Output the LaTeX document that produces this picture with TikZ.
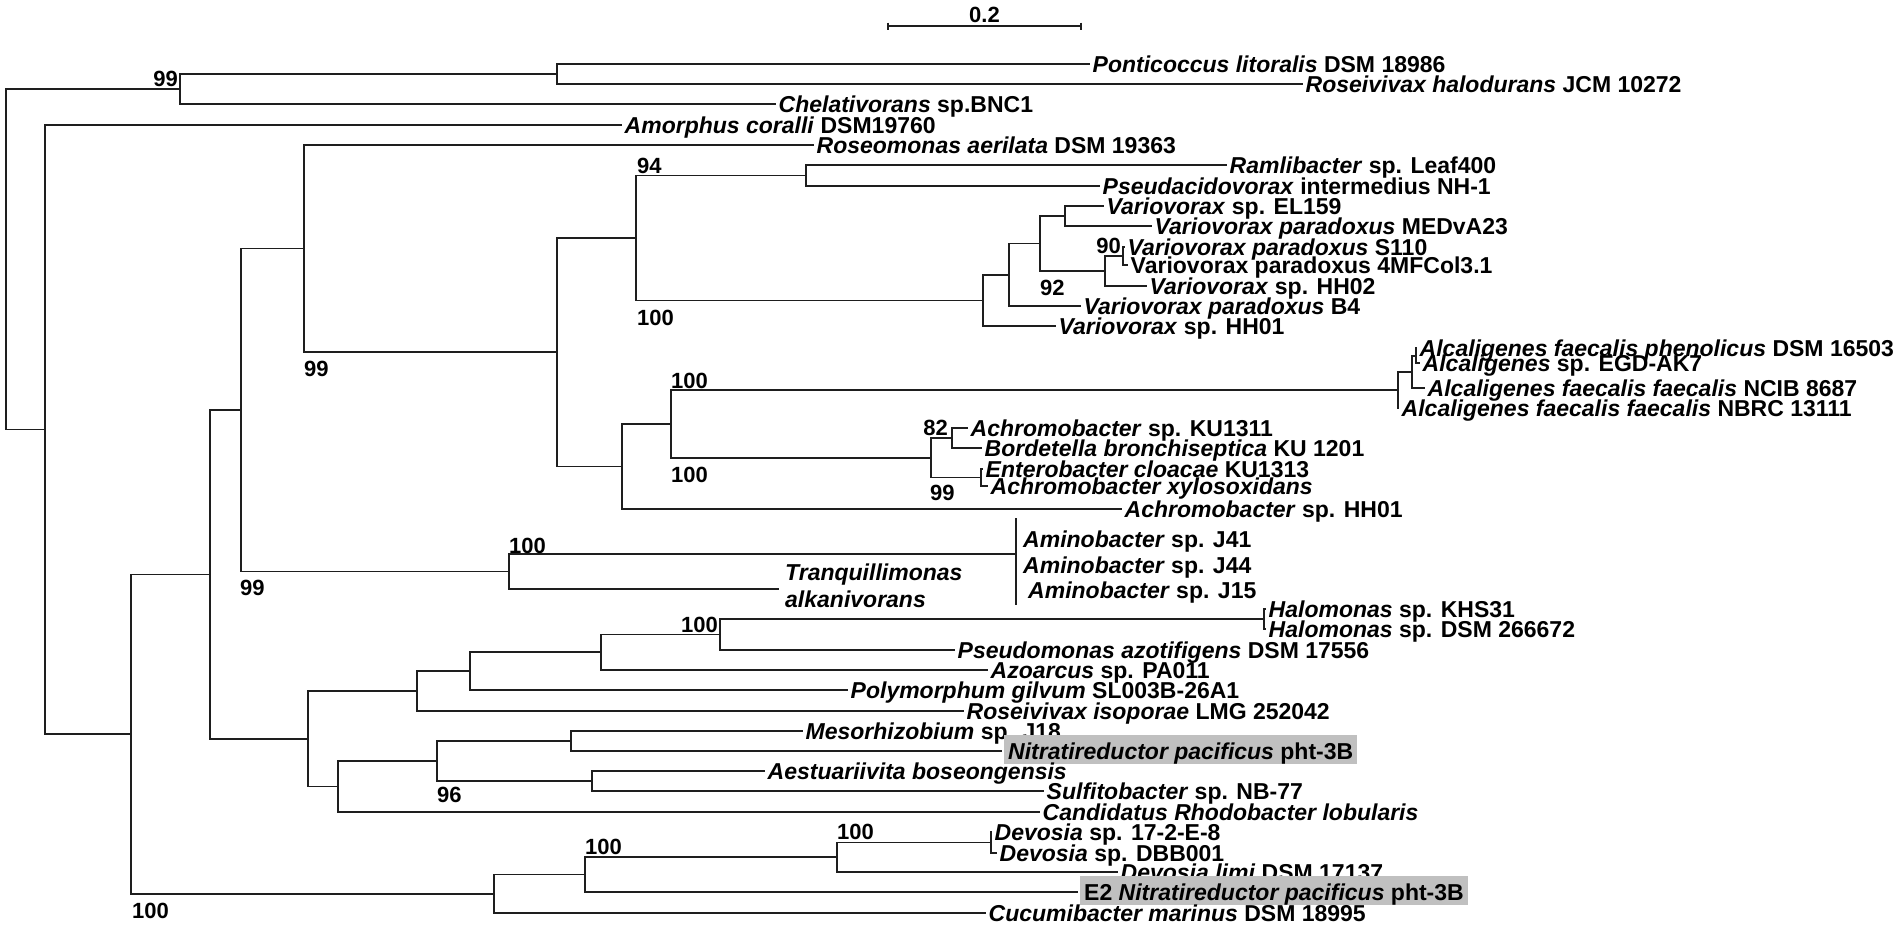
\documentclass[tikz,border=0pt]{standalone}
\usepackage{fontspec}
\setmainfont{Liberation Sans}
\definecolor{hlgray}{RGB}{192,192,192}
\definecolor{brcol}{RGB}{30,30,30}
\begin{document}
\begin{tikzpicture}[x=1pt,y=-1pt,
  br/.style={draw=brcol, line width=1.6pt},
  taxon/.style={anchor=base west, yshift=-8pt, inner xsep=2.5pt, inner ysep=0pt, font=\fontsize{23}{26}\selectfont\bfseries},
  taxfree/.style={anchor=base west, inner xsep=0pt, inner ysep=0pt, font=\fontsize{23}{26}\selectfont\bfseries},
  hilite/.style={taxon, xshift=2pt, fill=hlgray, inner xsep=4pt, text height=24pt, text depth=5pt},
  boot/.style={inner sep=0pt, font=\fontsize{22}{24}\selectfont\bfseries}]
\useasboundingbox (0,0) rectangle (1900,932);
\fill[white] (0,0) rectangle (1900,932);
% ---------- internal nodes ----------
\coordinate (root) at (6,259);
\coordinate (n180) at (180,89);
\coordinate (n557a) at (557,74);
\coordinate (n45) at (45,429.5);
\coordinate (n131) at (131,734);
\coordinate (n210) at (210,574.5);
\coordinate (n241) at (241,410);
\coordinate (n304) at (304,248.5);
\coordinate (n557) at (557,352);
\coordinate (n636) at (636,238);
\coordinate (n806) at (806,175.5);
\coordinate (n983) at (983,300.5);
\coordinate (n1009) at (1009,275);
\coordinate (n1040) at (1040,243.5);
\coordinate (n1065) at (1065,216);
\coordinate (n1105) at (1105,271);
\coordinate (n1123) at (1123,256);
\coordinate (n622) at (622,466.5);
\coordinate (n671) at (671,424);
\coordinate (n1398) at (1398,390);
\coordinate (n1412) at (1412,372);
\coordinate (n1416) at (1416,356);
\coordinate (n931) at (931,457.75);
\coordinate (n952) at (952,438);
\coordinate (n981) at (981,477.5);
\coordinate (n509) at (509,571.5);
\coordinate (amin) at (1016,554);
\coordinate (amt) at (1016,518);
\coordinate (amb) at (1016,605);
\coordinate (n308) at (308,739);
\coordinate (n417) at (417,691);
\coordinate (n470) at (470,671);
\coordinate (n601) at (601,652);
\coordinate (n720) at (720,634.5);
\coordinate (n1264) at (1264,619);
\coordinate (n338) at (338,786.5);
\coordinate (n437) at (437,761);
\coordinate (n571) at (571,741);
\coordinate (n592) at (592,781);
\coordinate (n494) at (494,894);
\coordinate (n585) at (585,874.5);
\coordinate (n837) at (837,857);
\coordinate (n991) at (991,842.5);
% ---------- leaf tips ----------
\coordinate (l_pont) at (1090,64);
\coordinate (l_rhal) at (1303,84);
\coordinate (l_chel) at (776,104);
\coordinate (l_amor) at (622,125);
\coordinate (l_rosm) at (814,145);
\coordinate (l_ramb) at (1227,165);
\coordinate (l_pseu) at (1100,186);
\coordinate (l_vel) at (1104,206);
\coordinate (l_vmed) at (1152,226);
\coordinate (l_vs110) at (1125,247);
\coordinate (l_v4mf) at (1128,265);
\coordinate (l_vhh02) at (1147,286);
\coordinate (l_vb4) at (1081,306);
\coordinate (l_vhh01) at (1056,326);
\coordinate (l_alph) at (1417,348);
\coordinate (l_alegd) at (1420,363);
\coordinate (l_alncib) at (1425,388);
\coordinate (l_alnbrc) at (1399,408);
\coordinate (l_aku) at (968,428);
\coordinate (l_bord) at (982,448);
\coordinate (l_ent) at (983,469);
\coordinate (l_axyl) at (988,486);
\coordinate (l_ahh01) at (1122,509);
\coordinate (l_tranq) at (779,589);
\coordinate (l_halK) at (1266,609);
\coordinate (l_halD) at (1266,629);
\coordinate (l_pazo) at (955,650);
\coordinate (l_azo) at (988,670);
\coordinate (l_poly) at (848,690);
\coordinate (l_risop) at (964,711);
\coordinate (l_meso) at (803,731);
\coordinate (l_nitr) at (1002,751);
\coordinate (l_aest) at (765,771);
\coordinate (l_sulf) at (1044,791);
\coordinate (l_cand) at (1040,812);
\coordinate (l_dev17) at (992,832);
\coordinate (l_devD) at (997,853);
\coordinate (l_devL) at (1118,872);
\coordinate (l_e2) at (1078,892);
\coordinate (l_cucu) at (986,913);
% ---------- branches ----------
\foreach \p/\c in {root/n180, root/n45, n180/n557a, n180/l_chel, n557a/l_pont, n557a/l_rhal,
  n45/l_amor, n45/n131, n131/n210, n131/n494, n210/n241, n210/n308, n241/n304, n241/n509,
  n304/l_rosm, n304/n557, n557/n636, n557/n622, n636/n806, n636/n983, n806/l_ramb, n806/l_pseu,
  n983/n1009, n983/l_vhh01, n1009/n1040, n1009/l_vb4, n1040/n1065, n1040/n1105,
  n1065/l_vel, n1065/l_vmed, n1105/n1123, n1105/l_vhh02, n1123/l_vs110, n1123/l_v4mf,
  n622/n671, n622/l_ahh01, n671/n1398, n671/n931, n1398/n1412, n1398/l_alnbrc,
  n1412/n1416, n1412/l_alncib, n1416/l_alph, n1416/l_alegd,
  n931/n952, n931/n981, n952/l_aku, n952/l_bord, n981/l_ent, n981/l_axyl,
  n509/amin, n509/l_tranq, n308/n417, n308/n338, n417/n470, n417/l_risop,
  n470/n601, n470/l_poly, n601/n720, n601/l_azo, n720/n1264, n720/l_pazo,
  n1264/l_halK, n1264/l_halD, n338/n437, n338/l_cand, n437/n571, n437/n592,
  n571/l_meso, n571/l_nitr, n592/l_aest, n592/l_sulf,
  n494/n585, n494/l_cucu, n585/n837, n585/l_e2, n837/n991, n837/l_devL,
  n991/l_dev17, n991/l_devD}
  \draw[br] (\p) |- (\c);
\draw[br] (amt) -- (amb);
% ---------- taxon labels ----------
\node[taxon] (t_pont) at (l_pont) {\textit{Ponticoccus litoralis} DSM 18986};
\node[taxon] (t_rhal) at (l_rhal) {\textit{Roseivivax halodurans} JCM 10272};
\node[taxon] (t_chel) at (l_chel) {\textit{Chelativorans} sp.BNC1};
\node[taxon] (t_amor) at (l_amor) {\textit{Amorphus coralli} DSM19760};
\node[taxon] (t_rosm) at (l_rosm) {\textit{Roseomonas aerilata} DSM 19363};
\node[taxon] (t_ramb) at (l_ramb) {\textit{Ramlibacter} sp. Leaf400};
\node[taxon] (t_pseu) at (l_pseu) {\textit{Pseudacidovorax} intermedius NH-1};
\node[taxon] (t_vel) at (l_vel) {\textit{Variovorax} sp. EL159};
\node[taxon] (t_vmed) at (l_vmed) {\textit{Variovorax paradoxus} MEDvA23};
\node[taxon] (t_vs110) at (l_vs110) {\textit{Variovorax paradoxus} S110};
\node[taxon] (t_v4mf) at (l_v4mf) {Variovorax paradoxus 4MFCol3.1};
\node[taxon] (t_vhh02) at (l_vhh02) {\textit{Variovorax} sp. HH02};
\node[taxon] (t_vb4) at (l_vb4) {\textit{Variovorax paradoxus} B4};
\node[taxon] (t_vhh01) at (l_vhh01) {\textit{Variovorax} sp. HH01};
\node[taxon] (t_alph) at (l_alph) {\textit{Alcaligenes faecalis phenolicus} DSM 16503};
\node[taxon] (t_alegd) at (l_alegd) {\textit{Alcaligenes} sp. EGD-AK7};
\node[taxon] (t_alncib) at (l_alncib) {\textit{Alcaligenes faecalis faecalis} NCIB 8687};
\node[taxon] (t_alnbrc) at (l_alnbrc) {\textit{Alcaligenes faecalis faecalis} NBRC 13111};
\node[taxon] (t_aku) at (l_aku) {\textit{Achromobacter} sp. KU1311};
\node[taxon] (t_bord) at (l_bord) {\textit{Bordetella bronchiseptica} KU 1201};
\node[taxon] (t_ent) at (l_ent) {\textit{Enterobacter cloacae} KU1313};
\node[taxon] (t_axyl) at (l_axyl) {\textit{Achromobacter xylosoxidans}};
\node[taxon] (t_ahh01) at (l_ahh01) {\textit{Achromobacter} sp. HH01};
\node[taxfree] (t_j41) at (1023,547) {\textit{Aminobacter} sp. J41};
\node[taxfree] (t_j44) at (1023,573) {\textit{Aminobacter} sp. J44};
\node[taxfree] (t_j15) at (1028,598) {\textit{Aminobacter} sp. J15};
\node[taxfree] (t_tranq1) at (785,580) {\textit{Tranquillimonas}};
\node[taxfree] (t_tranq2) at (785,607) {\textit{alkanivorans}};
\node[taxon] (t_halK) at (l_halK) {\textit{Halomonas} sp. KHS31};
\node[taxon] (t_halD) at (l_halD) {\textit{Halomonas} sp. DSM 266672};
\node[taxon] (t_pazo) at (l_pazo) {\textit{Pseudomonas azotifigens} DSM 17556};
\node[taxon] (t_azo) at (l_azo) {\textit{Azoarcus} sp. PA011};
\node[taxon] (t_poly) at (l_poly) {\textit{Polymorphum gilvum} SL003B-26A1};
\node[taxon] (t_risop) at (l_risop) {\textit{Roseivivax isoporae} LMG 252042};
\node[taxon] (t_meso) at (l_meso) {\textit{Mesorhizobium} sp. J18};
\node[hilite] (t_nitr) at (l_nitr) {\textit{Nitratireductor pacificus} pht-3B};
\node[taxon] (t_aest) at (l_aest) {\textit{Aestuariivita boseongensis}};
\node[taxon] (t_sulf) at (l_sulf) {\textit{Sulfitobacter} sp. NB-77};
\node[taxon] (t_cand) at (l_cand) {\textit{Candidatus Rhodobacter lobularis}};
\node[taxon] (t_dev17) at (l_dev17) {\textit{Devosia} sp. 17-2-E-8};
\node[taxon] (t_devD) at (l_devD) {\textit{Devosia} sp. DBB001};
\node[taxon] (t_devL) at (l_devL) {\textit{Devosia limi} DSM 17137};
\node[hilite] (t_e2) at (l_e2) {E2 \textit{Nitratireductor pacificus} pht-3B};
\node[taxon] (t_cucu) at (l_cucu) {\textit{Cucumibacter marinus} DSM 18995};
% ---------- bootstrap values ----------
\node[boot, anchor=base east] (b1) at (178,86) {99};
\node[boot, anchor=base west] (b2) at (304,376) {99};
\node[boot, anchor=base west] (b3) at (240,595) {99};
\node[boot, anchor=base west] (b4) at (132,918) {100};
\node[boot, anchor=base west] (b5) at (637,173) {94};
\node[boot, anchor=base west] (b6) at (637,325) {100};
\node[boot, anchor=base west] (b7) at (1040,295) {92};
\node[boot, anchor=base east] (b8) at (1121,253) {90};
\node[boot, anchor=base west] (b9) at (671,388) {100};
\node[boot, anchor=base west] (b10) at (671,482) {100};
\node[boot, anchor=base east] (b11) at (948,435) {82};
\node[boot, anchor=base west] (b12) at (930,500) {99};
\node[boot, anchor=base west] (b13) at (509,553) {100};
\node[boot, anchor=base east] (b14) at (718,632) {100};
\node[boot, anchor=base west] (b15) at (437,802) {96};
\node[boot, anchor=base west] (b16) at (585,854) {100};
\node[boot, anchor=base west] (b17) at (837,839) {100};
% ---------- scale bar ----------
\coordinate (sbl) at (888,26);
\coordinate (sbr) at (1081,26);
\draw[br, line width=1.3pt] (sbl) -- (sbr);
\draw[br, line width=1.3pt] ([yshift=3.5pt]sbl) -- ([yshift=-3.5pt]sbl);
\draw[br, line width=1.3pt] ([yshift=3.5pt]sbr) -- ([yshift=-3.5pt]sbr);
\node[boot, anchor=base] (sblab) at (984.5,22) {0.2};
\end{tikzpicture}
\end{document}
